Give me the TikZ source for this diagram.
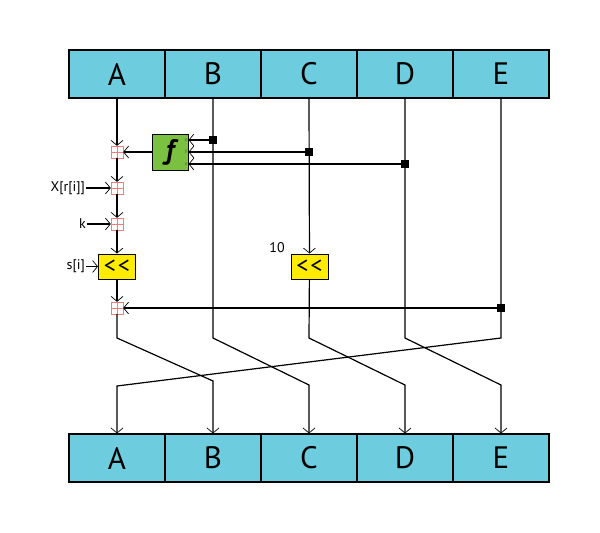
\documentclass[tikz,border=0pt]{standalone}
\usepackage{fontspec}
\setmainfont{PT Sans}
\usepackage{tikz}
\usetikzlibrary{arrows.meta}
\usetikzlibrary{positioning}
\usetikzlibrary{calc}
\definecolor{cellblue}{RGB}{109,205,222}
\definecolor{shiftyellow}{RGB}{255,236,0}
\definecolor{fgreen}{RGB}{122,193,66}
\definecolor{addred}{RGB}{255,120,120}
\tikzset{
	cell/.style={draw, line width=1.1pt, fill=cellblue, minimum width=96pt, minimum height=48pt, inner sep=0pt, font=\fontsize{31}{33}\selectfont},
	adder/.style={draw=addred, minimum size=12pt, inner sep=0pt,
		path picture={\draw[addred] (path picture bounding box.north) -- (path picture bounding box.south)
			(path picture bounding box.west) -- (path picture bounding box.east);}},
	shiftbox/.style={draw, line width=1pt, fill=shiftyellow, minimum width=37pt, minimum height=25pt, inner sep=0pt, font=\fontsize{24}{24}\selectfont},
	junction/.style={fill, minimum size=8pt, inner sep=0pt},
	wire/.style={line width=1.2pt},
	feed/.style={wire, -{Straight Barb[length=5pt, width=12pt, line width=0.7pt]}},
	lbl/.style={font=\fontsize{14}{16}\selectfont, inner sep=1pt},
}

\begin{document}
\begin{tikzpicture}[x=1pt, y=-1pt]
	\useasboundingbox (0,0) rectangle (600,533);
	\foreach \l [count=\i, evaluate=\i as \cx using 21+96*\i] in {A,B,C,D,E}
	{
		\node[cell] (top\l) at (\cx,74) {\l};
		\node[cell] (bot\l) at (\cx,458) {\l};
		\coordinate (out\l) at (\cx,338);
	}
	\coordinate (inA) at (117,386);
	\coordinate (inB) at (213,381);
	\coordinate (inC) at (309,385);
	\coordinate (inD) at (405,385);
	\coordinate (inE) at (501,385);
	
	% round function
	\node[draw, line width=1pt, fill=fgreen, minimum size=36pt, inner sep=0pt, font=\fontsize{28}{28}\bfseries\itshape] (f) at (170,152) {f};
	\foreach \v/\y in {x/140, y/152, z/164}
	{
		\node[font=\fontsize{5}{5}\selectfont, text=black!70, inner sep=0pt] (f\v) at (186,\y) {\v};
	}
	\node[adder] (add1) at (117,152) {};
	\node[adder] (add2) at (117,188) {};
	\node[adder] (add3) at (117,224) {};
	\node[shiftbox] (rotA) at (117,266.5) {<\kern2pt<};
	\node[adder] (add4) at (117,308) {};
	\node[shiftbox] (rotC) at (309.5,266.5) {<\kern2pt<};
	
	\node[junction] (jB) at (213,140) {};
	\node[junction] (jC) at (309,152) {};
	\node[junction] (jD) at (405,164) {};
	\node[junction] (jE) at (501,308) {};
	
	\node[lbl, anchor=east] (xri) at (86,188) {X[r[i]]};
	\node[lbl, anchor=east] (kin) at (87,224) {k};
	\node[lbl, anchor=east] (sin) at (86,266.5) {s[i]};
	\node[lbl] (ten) at (277,248) {10};
	
	% column A
	\draw[feed] (topA.south) -- (add1);
	\draw[feed] (add1) -- (add2);
	\draw[feed] (add2) -- (add3);
	\draw[feed] (add3) -- (rotA);
	\draw[feed] (rotA) -- (add4);
	\draw[feed] (add4) -- (outA) -- (inB) -- (botB.north);
	\draw[feed] (f.west) -- (add1);
	\draw[feed] (xri) -- (add2);
	\draw[feed] (kin) -- (add3);
	\draw[feed] (sin) -- (rotA);
	\draw[feed] (jE) -- (add4);
	% inputs of f
	\draw[feed] (jB) -- (f.east |- jB);
	\draw[feed] (jC) -- (f.east |- jC);
	\draw[feed] (jD) -- (f.east |- jD);
	% columns B to E
	\draw[feed] (topB.south) -- (outB) -- (inC) -- (botC.north);
	\draw[feed] (topC.south) -- (rotC);
	\draw[feed] (rotC) -- (outC) -- (inD) -- (botD.north);
	\draw[feed] (topD.south) -- (outD) -- (inE) -- (botE.north);
	\draw[feed] (topE.south) -- (outE) -- (inA) -- (botA.north);
\end{tikzpicture}
\end{document}
